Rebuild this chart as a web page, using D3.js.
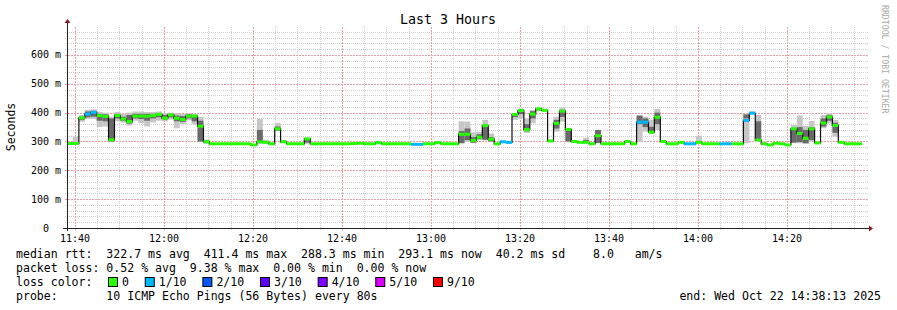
<!DOCTYPE html>
<html>
<head>
<meta charset="utf-8">
<script src="https://cdn.jsdelivr.net/npm/d3@7/dist/d3.min.js"></script>
<style>
html, body { margin: 0; padding: 0; background: #fff; }
svg { display: block; }
text { font-family: "DejaVu Sans Mono", monospace; fill: #000; white-space: pre; }
</style>
</head>
<body>
<svg id="chart" width="897" height="310"></svg>
<script>
// data: one ping probe every 80s, last 3 hours
const endTime = new Date(2025, 9, 22, 14, 38, 13)
const stepSeconds = 80
const lastStep = 134

// segments of equal readings: first step index, median, smoke range, inner smoke range (ms), loss
const segStep =    [0,1,2,3,4,5,6,7,8,9,10,11,12,13,14,15,16,17,18,19,20,21,22,23,24,31,32,33,34,35,36,37,40,41,48,49,50,52,53,58,60,62,63,66,67,68,69,70,71,72,73,74,75,76,77,78,79,80,81,82,83,84,85,86,87,88,89,90,91,94,95,96,97,98,99,100,101,103,104,106,107,110,112,114,115,116,117,118,119,120,121,122,123,124,125,126,127,128,129,130,131,132,133]
const segMedian =  [293,293,382,395,401,390,387,306,390,378,369,388,388,388,390,394,381,392,381,376,388,388,353,299,292,288,299,297,292,344,299,292,309,292,293,294,292,296,292,290,292,296,292,325,325,304,315,355,308,292,299,297,394,407,341,395,413,408,302,363,405,342,300,297,297,292,320,292,292,300,292,367,367,332,384,300,292,297,292,297,292,292,292,373,398,305,292,288,294,292,288,344,328,311,344,295,364,385,356,297,292,292,292]
const segLow =     [291,291,368,378,378,350,352,298,370,366,355,372,364,352,366,372,370,376,346,360,374,360,298,292,290,286,293,292,290,336,294,290,292,290,290,290,290,292,290,288,290,292,290,294,298,294,306,304,299,290,294,294,375,380,330,363,405,404,298,334,369,299,296,294,294,290,294,290,290,296,290,299,334,328,340,298,290,294,290,294,290,290,290,294,396,300,290,286,291,290,286,294,294,292,299,292,346,363,317,294,290,290,290]
const segHigh =    [295,317,392,410,412,402,400,384,402,396,400,404,404,402,402,404,398,400,398,396,398,396,385,307,295,291,378,306,295,365,305,295,313,295,298,297,295,299,295,293,295,299,295,370,369,332,334,375,328,295,302,300,398,415,380,409,417,412,305,386,417,344,303,300,313,295,340,296,295,302,295,390,386,375,413,306,295,300,295,320,295,295,295,394,405,392,300,291,297,295,291,357,390,354,371,298,392,398,375,300,295,300,295]
const segInnerLow =  [null,null,375,384,386,372,370,300,380,372,362,380,378,372,380,384,376,384,370,368,380,370,300,null,null,null,294,null,null,338,null,null,296,null,null,null,null,null,null,null,null,null,null,294,305,296,308,306,300,null,null,null,385,395,335,380,408,null,null,345,385,300,null,null,295,null,295,null,null,null,null,360,350,330,360,null,null,null,null,null,null,null,null,380,null,305,null,null,null,null,null,296,298,294,305,null,352,372,330,null,null,null,null]
const segInnerHigh = [null,null,386,404,406,396,394,380,396,386,392,396,396,396,396,398,392,396,390,388,394,392,372,null,null,null,340,null,null,352,null,null,310,null,null,null,null,null,null,null,null,null,null,336,345,315,325,355,315,null,null,null,397,412,360,405,416,null,null,375,410,344,null,null,305,null,340,null,null,null,null,390,380,351,400,null,null,null,null,null,null,null,null,394,null,370,null,null,null,null,null,344,350,340,350,null,380,392,365,null,null,null,null]
const segLoss =    [0,0,0,1,1,0,0,0,0,0,0,0,0,0,0,0,0,0,0,0,0,0,0,0,0,0,0,0,0,0,0,0,0,0,0,0,0,0,0,1,0,0,0,0,0,0,0,0,0,0,1,1,0,0,0,0,0,0,0,0,0,0,0,0,0,0,0,0,0,0,0,1,1,0,0,0,0,0,1,0,0,1,0,1,1,0,0,0,0,0,0,0,0,0,0,0,0,0,0,0,0,0,0]

// legend values
const rttValues = [322.7, 411.4, 288.3, 293.1]
const rttLabels = ['avg', 'max', 'min', 'now']
const rttSd = 40.2
const rttAmps = 8.0
const lossValues = [0.52, 9.38, 0.00, 0.00]
const lossLabels = ['avg', 'max', 'min', 'now']
const lossNames = ['0', '1/10', '2/10', '3/10', '4/10', '5/10', '9/10']
const lossColors = ['#26ff00', '#00b8ff', '#0059ff', '#5e00ff', '#7e00ff', '#dd00ff', '#ff0000']
const yTicks = [0, 100, 200, 300, 400, 500, 600]

// layout
const plot = { left: 67, right: 868, top: 27, bottom: 228 }
const cw = 6.96 // monospace advance of legend font
const svg = d3.select('#chart')

const startTime = d3.timeHour.offset(endTime, -3)
const x = d3.scaleTime().domain([startTime, endTime]).range([plot.left, plot.right])
const y = d3.scaleLinear().domain([0, 697]).range([plot.bottom, plot.top])
const stepTime = k => d3.timeSecond.offset(startTime, k * stepSeconds)
const crisp = v => Math.round(v) + 0.5

const segments = segStep.map((s, i) => ({
    x0: x(stepTime(s)),
    x1: x(stepTime(i + 1 < segStep.length ? segStep[i + 1] : lastStep)),
    med: segMedian[i],
    lo: segLow[i],
    hi: segHigh[i],
    ilo: segInnerLow[i],
    ihi: segInnerHigh[i],
    loss: segLoss[i]
}))

// grid
const grid = svg.append('g').attr('shape-rendering', 'crispEdges')
const minorColor = '#cfcfcf'
const majorColor = '#eaa0a0'
const hMinor = d3.range(20, 697, 20).filter(v => v % 100 !== 0)
const vMinor = d3.timeMinute.every(5).range(startTime, endTime).filter(t => t.getMinutes() % 20 !== 0)
const vMajor = d3.timeMinute.every(20).range(startTime, endTime)

const hLines = (data, color, dash) => grid.selectAll(null).data(data).enter().append('line')
    .attr('x1', plot.left - 2).attr('x2', plot.right)
    .attr('y1', d => crisp(y(d))).attr('y2', d => crisp(y(d)))
    .attr('stroke', color).attr('stroke-dasharray', dash)
const vLines = (data, color, dash) => grid.selectAll(null).data(data).enter().append('line')
    .attr('x1', d => crisp(x(d))).attr('x2', d => crisp(x(d)))
    .attr('y1', plot.top).attr('y2', plot.bottom + 3)
    .attr('stroke', color).attr('stroke-dasharray', dash)

hLines(hMinor, minorColor, '1,1')
vLines(vMinor, minorColor, '1,1')
hLines(yTicks.filter(v => v > 0), majorColor, '2,1')
vLines(vMajor, majorColor, '2,1')

// smoke
const marks = svg.append('g')
marks.selectAll('.smoke').data(segments).enter().append('rect')
    .attr('x', d => d.x0).attr('width', d => d.x1 - d.x0)
    .attr('y', d => y(d.hi)).attr('height', d => y(d.lo) - y(d.hi))
    .attr('fill', '#c6c6c6')
marks.selectAll('.inner').data(segments.filter(d => d.ilo !== null)).enter().append('rect')
    .attr('x', d => d.x0).attr('width', d => d.x1 - d.x0)
    .attr('y', d => y(d.ihi)).attr('height', d => y(d.ilo) - y(d.ihi))
    .attr('fill', '#6a6a6a')

// median: black step line plus loss-coloured bars
const medianPoints = segments.map(d => [d.x0, y(d.med)])
medianPoints.push([segments[segments.length - 1].x1, y(segments[segments.length - 1].med)])
marks.append('path')
    .attr('d', d3.line().curve(d3.curveStepAfter)(medianPoints))
    .attr('fill', 'none').attr('stroke', '#111').attr('stroke-width', 1.2)
marks.selectAll('.median').data(segments).enter().append('rect')
    .attr('x', d => d.x0).attr('width', d => d.x1 - d.x0)
    .attr('y', d => y(d.med) - 1.5).attr('height', 3)
    .attr('fill', d => lossColors[d.loss])

// axes
const axisColor = '#222'
const arrowColor = '#8a1f1f'
svg.append('line').attr('x1', plot.left - 4).attr('x2', plot.right + 1)
    .attr('y1', plot.bottom + 0.5).attr('y2', plot.bottom + 0.5).attr('stroke', axisColor)
svg.append('line').attr('x1', plot.left + 0.5).attr('x2', plot.left + 0.5)
    .attr('y1', plot.bottom + 3).attr('y2', plot.top - 4).attr('stroke', axisColor)
svg.append('path').attr('d', `M${plot.right + 1},${plot.bottom - 2.5}L${plot.right + 5},${plot.bottom + 0.5}L${plot.right + 1},${plot.bottom + 3.5}Z`)
    .attr('fill', arrowColor)
svg.append('path').attr('d', `M${plot.left - 2.5},${plot.top - 4}L${plot.left + 0.5},${plot.top - 8}L${plot.left + 3.5},${plot.top - 4}Z`)
    .attr('fill', arrowColor)

// tick labels
svg.selectAll('.ylab').data(yTicks).enter().append('text')
    .attr('x', 61).attr('y', d => y(d) + 3.5)
    .attr('text-anchor', 'end').style('font-size', '10px')
    .text(d => d === 0 ? '0  ' : `${d} m`)
svg.selectAll('.xlab').data(vMajor).enter().append('text')
    .attr('x', d => x(d)).attr('y', 242)
    .attr('text-anchor', 'middle').style('font-size', '10px')
    .text(d3.timeFormat('%H:%M'))

// titles
svg.append('text').attr('x', 448).attr('y', 24).attr('text-anchor', 'middle')
    .style('font-size', '13.3px').text('Last 3 Hours')
svg.append('text').attr('transform', 'translate(15,127) rotate(-90)')
    .attr('text-anchor', 'middle').style('font-size', '11.5px').text('Seconds')
svg.append('text').attr('transform', 'translate(882,5) rotate(90)')
    .style('font-size', '8.2px').style('fill', '#aaa').text('RRDTOOL / TOBI OETIKER')

// legend
const legendFont = '11.56px'
const legendX = 16
const line1 = 'median rtt:  ' + rttValues.map((v, i) => `${v.toFixed(1)} ms ${rttLabels[i]}`).join('  ')
    + `  ${rttSd.toFixed(1)} ms sd    ${rttAmps.toFixed(1)}   am/s`
const line2 = 'packet loss: ' + lossValues.map((v, i) => `${v.toFixed(2)} % ${lossLabels[i]}`).join('  ')
svg.append('text').attr('x', legendX).attr('y', 258).style('font-size', legendFont).text(line1)
svg.append('text').attr('x', legendX).attr('y', 272).style('font-size', legendFont).text(line2)
svg.append('text').attr('x', legendX).attr('y', 286).style('font-size', legendFont).text('loss color:')
let lx = legendX + 13 * cw + 1.5
lossNames.forEach((name, i) => {
    svg.append('rect').attr('x', lx + 0.5).attr('y', 277.5).attr('width', 9).attr('height', 9)
        .attr('fill', lossColors[i]).attr('stroke', '#000')
    svg.append('text').attr('x', lx + 14).attr('y', 286).style('font-size', legendFont).text(name)
    lx += 14 + name.length * cw + 15.8
})
svg.append('text').attr('x', legendX).attr('y', 300).style('font-size', legendFont)
    .text('probe:       10 ICMP Echo Pings (56 Bytes) every 80s')
svg.append('text').attr('x', 881).attr('y', 300).attr('text-anchor', 'end').style('font-size', legendFont)
    .text('end: ' + d3.timeFormat('%a %b %d %H:%M:%S %Y')(endTime))
</script>
</body>
</html>
